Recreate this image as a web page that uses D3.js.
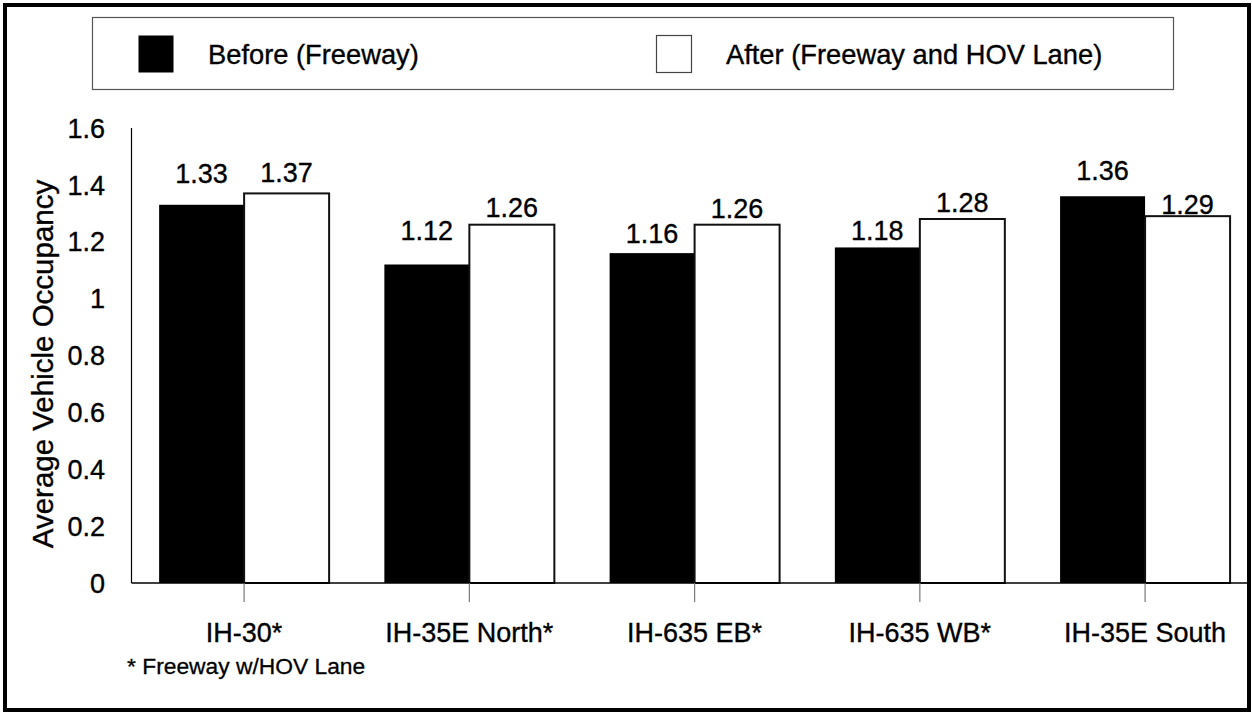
<!DOCTYPE html>
<html>
<head>
<meta charset="utf-8">
<script src="https://cdn.jsdelivr.net/npm/d3@7"></script>
<style>
  html, body { margin: 0; padding: 0; background: #fff; }
  svg { display: block; font-family: "Liberation Sans", Arial, Helvetica, sans-serif; }
  svg text { stroke: #000; stroke-width: 0.35px; }
</style>
</head>
<body>
<svg id="chart" width="1252" height="714"></svg>
<script>
// Corridors and average vehicle occupancy before/after HOV lane opening
const corridors = ["IH-30*", "IH-35E North*", "IH-635 EB*", "IH-635 WB*", "IH-35E South"];
const seriesNames = ["Before (Freeway)", "After (Freeway and HOV Lane)"];
const beforeValues = [1.33, 1.12, 1.16, 1.18, 1.36];
const afterValues = [1.37, 1.26, 1.26, 1.28, 1.29];
const yTicks = [0, 0.2, 0.4, 0.6, 0.8, 1, 1.2, 1.4, 1.6];
const yTickLabels = ["0", "0.2", "0.4", "0.6", "0.8", "1", "1.2", "1.4", "1.6"];
const yTitle = "Average Vehicle Occupancy";
const footnote = "* Freeway w/HOV Lane";

// Layout
const W = 1252, H = 714;
const plot = { left: 131.5, right: 1257.7, top: 128, bottom: 583 };
// Vertical gap (px) between each value label and the top of its bar
const labelGapBefore = [22, 25, 10, 7, 16];
const labelGapAfter = [11, 8, 7, 7, 2];

const svg = d3.select("#chart");

const x = d3.scaleBand().domain(corridors).range([plot.left, plot.right]).padding(0);
const xInner = d3.scaleBand().domain(seriesNames).range([0, x.bandwidth()])
  .paddingInner(0).paddingOuter(0.325);
const y = d3.scaleLinear().domain([0, 1.6]).range([plot.bottom, plot.top]);

const clipId = "frameClip";
svg.append("defs").append("clipPath").attr("id", clipId)
  .append("rect").attr("x", 5).attr("y", 5).attr("width", 1244).attr("height", 705);

const g = svg.append("g").attr("clip-path", `url(#${clipId})`);

// Horizontal gridlines with outside tick stubs
const yAxis = d3.axisLeft(y)
  .tickValues(yTicks)
  .tickSize(-(plot.right - plot.left) - 18)
  .tickFormat((d, i) => yTickLabels[i]);
const yAxisG = g.append("g")
  .attr("transform", `translate(${plot.right},0)`)
  .call(yAxis);
yAxisG.select(".domain").remove();
yAxisG.selectAll(".tick line").attr("stroke", "#d2d2d2").attr("stroke-width", 1.2);
yAxisG.selectAll(".tick text").remove();

// Y tick labels
g.append("g").selectAll("text")
  .data(yTicks)
  .join("text")
  .attr("x", 105)
  .attr("y", d => y(d))
  .attr("dy", "0.36em")
  .attr("text-anchor", "end")
  .attr("font-size", 27)
  .attr("fill", "#000")
  .text((d, i) => yTickLabels[i]);

const rows = corridors.map((c, i) => ({
  corridor: c,
  values: [
    { series: seriesNames[0], value: beforeValues[i], gap: labelGapBefore[i] },
    { series: seriesNames[1], value: afterValues[i], gap: labelGapAfter[i] }
  ]
}));

const groups = g.append("g").selectAll("g")
  .data(rows)
  .join("g")
  .attr("transform", d => `translate(${x(d.corridor)},0)`);

groups.selectAll("rect")
  .data(d => d.values)
  .join("rect")
  .attr("x", d => xInner(d.series))
  .attr("y", d => y(d.value))
  .attr("width", xInner.bandwidth())
  .attr("height", d => y(0) - y(d.value))
  .attr("fill", (d, i) => i === 0 ? "#000" : "#fff")
  .attr("stroke", (d, i) => i === 0 ? "none" : "#111")
  .attr("stroke-width", 2);

groups.selectAll("text.val")
  .data(d => d.values)
  .join("text")
  .attr("class", "val")
  .attr("x", d => xInner(d.series) + xInner.bandwidth() / 2)
  .attr("y", d => y(d.value) - d.gap)
  .attr("text-anchor", "middle")
  .attr("font-size", 27)
  .attr("fill", "#000")
  .text(d => d.value.toFixed(2));

// Axis lines
g.append("line")
  .attr("x1", plot.left).attr("x2", plot.left)
  .attr("y1", plot.top).attr("y2", plot.bottom)
  .attr("stroke", "#000").attr("stroke-width", 1.2);
g.append("line")
  .attr("x1", plot.left).attr("x2", plot.right)
  .attr("y1", plot.bottom).attr("y2", plot.bottom)
  .attr("stroke", "#000").attr("stroke-width", 1.5);

// Category ticks and labels
const xAxisG = g.append("g");
xAxisG.selectAll("line")
  .data(corridors)
  .join("line")
  .attr("x1", d => x(d) + x.bandwidth() / 2)
  .attr("x2", d => x(d) + x.bandwidth() / 2)
  .attr("y1", plot.bottom)
  .attr("y2", plot.bottom + 19)
  .attr("stroke", "#7a7a7a").attr("stroke-width", 1.2);
xAxisG.selectAll("text")
  .data(corridors)
  .join("text")
  .attr("x", d => x(d) + x.bandwidth() / 2)
  .attr("y", 641.5)
  .attr("text-anchor", "middle")
  .attr("font-size", 27)
  .attr("fill", "#000")
  .text(d => d);

// Y axis title
g.append("text")
  .attr("transform", "translate(52.5,364) rotate(-90)")
  .attr("text-anchor", "middle")
  .attr("font-size", 29.5)
  .attr("fill", "#000")
  .text(yTitle);

// Footnote
g.append("text")
  .attr("x", 127)
  .attr("y", 674)
  .attr("font-size", 22.8)
  .attr("fill", "#000")
  .style("stroke-width", "0.3px")
  .text(footnote);

// Legend
const legend = g.append("g");
legend.append("rect")
  .attr("x", 92.5).attr("y", 17.5)
  .attr("width", 1081).attr("height", 72)
  .attr("fill", "#fff").attr("stroke", "#555").attr("stroke-width", 1.2);
const legendItems = [
  { name: seriesNames[0], sx: 138, tx: 208, fill: "#000", stroke: "none" },
  { name: seriesNames[1], sx: 656, tx: 726, fill: "#fff", stroke: "#444" }
];
legend.selectAll("rect.sw")
  .data(legendItems)
  .join("rect")
  .attr("class", "sw")
  .attr("x", d => d.sx + 0.5).attr("y", 35.5)
  .attr("width", 35).attr("height", 37)
  .attr("fill", d => d.fill)
  .attr("stroke", d => d.stroke)
  .attr("stroke-width", 1.2);
legend.selectAll("text")
  .data(legendItems)
  .join("text")
  .attr("x", d => d.tx)
  .attr("y", 64)
  .attr("font-size", 27.3)
  .attr("fill", "#000")
  .text(d => d.name);

// Outer frame
svg.append("rect")
  .attr("x", 5).attr("y", 5)
  .attr("width", 1244).attr("height", 705)
  .attr("fill", "none")
  .attr("stroke", "#000")
  .attr("stroke-width", 4);
</script>
</body>
</html>
